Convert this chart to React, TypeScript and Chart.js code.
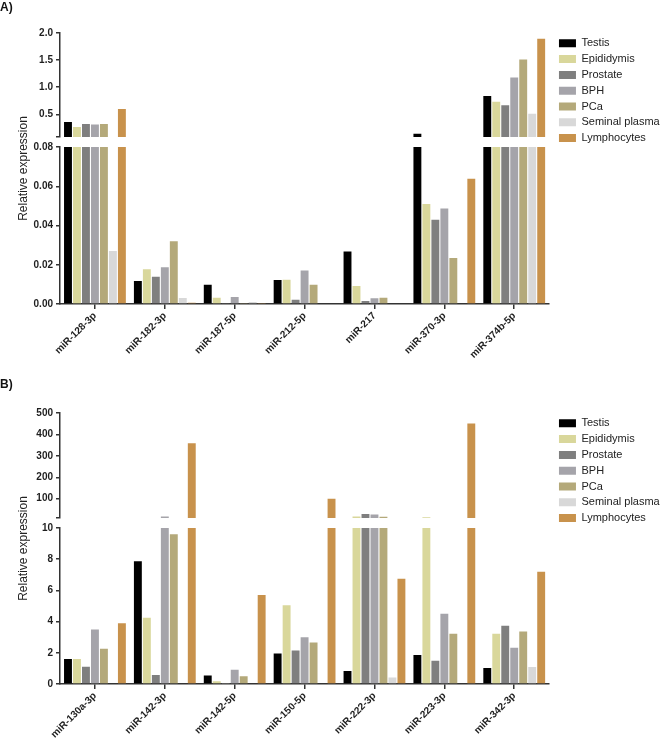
import React, { useEffect, useRef } from 'react';
import { Chart, registerables } from 'chart.js';

Chart.register(...registerables);

const FONT = '"Liberation Sans", Arial, sans-serif';

const seriesNames = ['Testis', 'Epididymis', 'Prostate', 'BPH', 'PCa', 'Seminal plasma', 'Lymphocytes'];
const seriesColors = ['#000000', '#d9d79b', '#7f7f7f', '#a5a4aa', '#b4a97a', '#d8d8d8', '#c8924c'];

// Panel A
const categoriesA = ['miR-128-3p', 'miR-182-3p', 'miR-187-5p', 'miR-212-5p', 'miR-217', 'miR-370-3p', 'miR-374b-5p'];
const testisA = [0.357, 0.0117, 0.0098, 0.0122, 0.0268, 0.14, 0.837];
const epididymisA = [0.265, 0.0177, 0.0032, 0.0124, 0.0092, 0.051, 0.732];
const prostateA = [0.32, 0.0139, 0.0005, 0.0022, 0.0015, 0.0429, 0.666];
const bphA = [0.31, 0.0187, 0.0036, 0.0171, 0.0029, 0.0487, 1.18];
const pcaA = [0.32, 0.032, 0.0005, 0.0098, 0.0032, 0.0234, 1.51];
const seminalA = [0.027, 0.003, 0.001, 0, 0, 0, 0.51];
const lymphA = [0.597, 0.0007, 0.0003, 0, 0, 0.0638, 1.895];
const breakA = 0.08;
const maxA = 2.0;
const upperTicksA = [0.08, 0.5, 1.0, 1.5, 2.0];
const lowerTicksA = [0, 0.02, 0.04, 0.06, 0.08];

// Panel B
const categoriesB = ['miR-130a-3p', 'miR-142-3p', 'miR-142-5p', 'miR-150-5p', 'miR-222-3p', 'miR-223-3p', 'miR-342-3p'];
const testisB = [1.6, 7.87, 0.55, 1.96, 0.83, 1.86, 1.02];
const epididymisB = [1.6, 4.24, 0.17, 5.05, 17, 14, 3.22];
const prostateB = [1.1, 0.58, 0.02, 2.15, 29, 1.49, 3.73];
const bphB = [3.5, 17, 0.92, 3.0, 26, 4.5, 2.32];
const pcaB = [2.26, 9.6, 0.49, 2.66, 16, 3.22, 3.37];
const seminalB = [0, 0, 0, 0, 0.42, 0, 1.09];
const lymphB = [3.9, 359, 5.7, 100, 6.74, 451, 7.2];
const breakB = 10;
const maxB = 500;
const upperTicksB = [10, 100, 200, 300, 400, 500];
const lowerTicksB = [0, 2, 4, 6, 8, 10];

interface PanelSpec {
  tag: string;
  categories: string[];
  series: number[][];
  brk: number;
  max: number;
  upperTicks: number[];
  lowerTicks: number[];
  upperFmt: (v: number) => string;
  lowerFmt: (v: number) => string;
  padTop: number;
  xHeight: number;
  wTop: number;
  wGap: number;
  wBot: number;
}

const AXIS = '#333333';
const TICK = '#1e1e1e';
const PAD_RIGHT = 4;
const LEGEND_SHIFT = 5;

function buildConfig(p: PanelSpec): any {
  const upper = p.series.map((vals, i) => ({
    label: seriesNames[i],
    data: vals.map((v) => (v > p.brk ? [p.brk, v] : null)),
    backgroundColor: seriesColors[i],
    borderWidth: 0,
    yAxisID: 'yTop',
    stack: 's' + i,
    categoryPercentage: 0.9,
    barPercentage: 0.88,
  }));
  const lower = p.series.map((vals, i) => ({
    label: seriesNames[i] + '_low',
    data: vals.map((v) => Math.min(v, p.brk)),
    backgroundColor: seriesColors[i],
    borderWidth: 0,
    yAxisID: 'yBot',
    stack: 's' + i,
    categoryPercentage: 0.9,
    barPercentage: 0.88,
  }));
  const tickFont = { family: FONT, size: 10, weight: 'bold' as const };
  const yCommon = {
    type: 'linear' as const,
    position: 'left' as const,
    stack: 'v',
    stacked: false,
    grid: { display: true, drawOnChartArea: false, drawTicks: true, tickLength: 4, color: AXIS, lineWidth: 1.5 },
    border: { display: true, color: AXIS, width: 1.5 },
    afterFit: (s: any) => {
      s.width = 60;
    },
  };
  const textPlugin = {
    id: 'panelText' + p.tag,
    afterLayout(chart: any) {
      const lg = chart.legend;
      if (lg) {
        lg.left += LEGEND_SHIFT;
        lg.right += LEGEND_SHIFT;
      }
    },
    afterDraw(chart: any) {
      const { ctx, chartArea } = chart;
      ctx.save();
      ctx.fillStyle = '#111';
      ctx.font = 'bold 12px ' + FONT;
      ctx.textAlign = 'left';
      ctx.textBaseline = 'middle';
      ctx.fillText(p.tag + ')', 0, p.tag === 'A' ? 8 : 15);
      ctx.translate(24, (chartArea.top + chartArea.bottom) / 2);
      ctx.rotate(-Math.PI / 2);
      ctx.font = '12px ' + FONT;
      ctx.fillStyle = '#222';
      ctx.textAlign = 'center';
      ctx.fillText('Relative expression', 0, 0);
      ctx.restore();
    },
  };
  return {
    type: 'bar',
    data: { labels: p.categories, datasets: [...upper, ...lower] },
    plugins: [textPlugin],
    options: {
      responsive: false,
      animation: false,
      layout: { padding: { top: p.padTop, left: 0, right: PAD_RIGHT, bottom: 0 } },
      plugins: {
        tooltip: { enabled: false },
        legend: {
          position: 'right',
          align: 'start',
          labels: {
            boxWidth: 17,
            boxHeight: 8,
            padding: 4.8,
            color: '#222',
            font: { family: FONT, size: 11 },
            filter: (item: any) => item.datasetIndex < 7,
          },
        },
      },
      scales: {
        x: {
          type: 'category',
          offset: true,
          grid: { display: true, drawOnChartArea: false, drawTicks: true, tickLength: 5, offset: false, color: AXIS, lineWidth: 1.5 },
          border: { display: true, color: AXIS, width: 1.5 },
          ticks: { font: tickFont, color: TICK, maxRotation: 45, minRotation: 45, padding: 1, autoSkip: false },
          afterFit: (s: any) => {
            s.height = p.xHeight;
          },
        },
        yBot: {
          ...yCommon,
          weight: 1,
          stackWeight: p.wBot,
          min: 0,
          max: p.brk,
          afterBuildTicks: (s: any) => {
            s.ticks = p.lowerTicks.map((v) => ({ value: v }));
          },
          ticks: { font: tickFont, color: TICK, padding: 3, autoSkip: false, callback: (v: any) => p.lowerFmt(Number(v)) },
        },
        yGap: {
          type: 'linear',
          position: 'left',
          stack: 'v',
          weight: 2,
          stackWeight: p.wGap,
          display: false,
        },
        yTop: {
          ...yCommon,
          weight: 3,
          stackWeight: p.wTop,
          min: p.brk,
          max: p.max,
          afterBuildTicks: (s: any) => {
            s.ticks = p.upperTicks.map((v) => ({ value: v }));
          },
          ticks: {
            font: tickFont,
            color: TICK,
            padding: 3,
            autoSkip: false,
            callback: (v: any) => (Math.abs(Number(v) - p.brk) < 1e-9 ? '' : p.upperFmt(Number(v))),
          },
        },
      },
    },
  };
}

const panelA: PanelSpec = {
  tag: 'A',
  categories: categoriesA,
  series: [testisA, epididymisA, prostateA, bphA, pcaA, seminalA, lymphA],
  brk: breakA,
  max: maxA,
  upperTicks: upperTicksA,
  lowerTicks: lowerTicksA,
  upperFmt: (v) => v.toFixed(1),
  lowerFmt: (v) => v.toFixed(2),
  padTop: 33,
  xHeight: 66,
  wTop: 104,
  wGap: 10,
  wBot: 157,
};

const panelB: PanelSpec = {
  tag: 'B',
  categories: categoriesB,
  series: [testisB, epididymisB, prostateB, bphB, pcaB, seminalB, lymphB],
  brk: breakB,
  max: maxB,
  upperTicks: upperTicksB,
  lowerTicks: lowerTicksB,
  upperFmt: (v) => String(Math.round(v)),
  lowerFmt: (v) => String(Math.round(v)),
  padTop: 43,
  xHeight: 56,
  wTop: 105,
  wGap: 10,
  wBot: 156,
};

export default function App() {
  const refA = useRef<HTMLCanvasElement>(null);
  const refB = useRef<HTMLCanvasElement>(null);
  useEffect(() => {
    const a = new Chart(refA.current as HTMLCanvasElement, buildConfig(panelA));
    const b = new Chart(refB.current as HTMLCanvasElement, buildConfig(panelB));
    return () => {
      a.destroy();
      b.destroy();
    };
  }, []);
  return (
    <div style={{ position: 'absolute', left: 0, top: 0, width: 663, height: 740, background: '#ffffff' }}>
      <canvas ref={refA} width={663} height={370} style={{ position: 'absolute', left: 0, top: 0 }} />
      <canvas ref={refB} width={663} height={370} style={{ position: 'absolute', left: 0, top: 370 }} />
    </div>
  );
}
